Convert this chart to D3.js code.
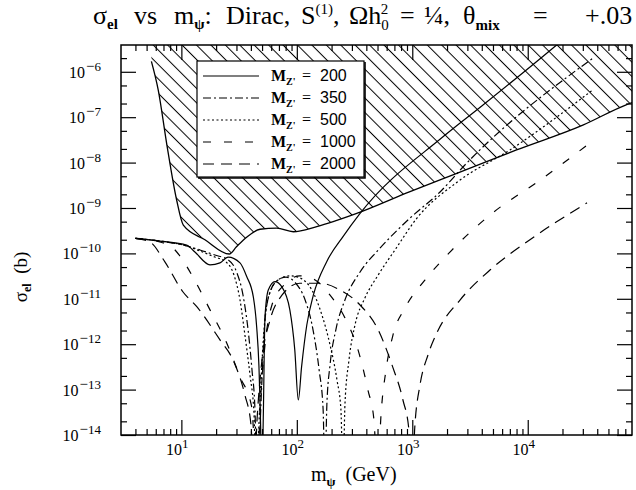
<!DOCTYPE html>
<html>
<head>
<meta charset="utf-8">
<script src="https://cdn.jsdelivr.net/npm/d3@7"></script>
<style>
body { margin: 0; background: #fff; }
text { font-family: "Liberation Serif", serif; fill: #000; white-space: pre; }
</style>
</head>
<body>
<div id="chart"></div>
<script>
// values: [m_psi (GeV), sigma_el (b)]
var massZ = [200, 350, 500, 1000, 2000];

var limitCurve = [[5.5,1.7e-6],[6.3,4.0e-7],[7.5,2.4e-8],[9.1,1.5e-9],[10.4,4.2e-10],[16,2.0e-10],
    [26,9.7e-11],[30,1.4e-10],[37,2.3e-10],[48,3.4e-10],[67,3.6e-10],[93,3.0e-10],[149,3.9e-10],
    [330,7.6e-10],[956,2.3e-9],[2430,5.8e-9],[8000,1.9e-8],[30000,6.7e-8],[72000,1.9e-7],[80000,2.1e-7]];

var curve200 = [[4.0,2.15e-10],[6.5,1.87e-10],[11.1,1.53e-10],[13.1,1.07e-10],[17.7,5.6e-11],[21.6,6.2e-11],
    [25.4,8.3e-11],[32.2,6.2e-11],[36.8,3.1e-11],[42.0,1.1e-11],[44.9,2.4e-12],[47.0,3.2e-13],[48.4,2.5e-14],
    [49.9,1e-15],[51.3,3.0e-14],[53.0,4.0e-12],[56.6,1.56e-11],[64.7,2.4e-11],[74,1.85e-11],[87,5.7e-12],
    [96,7.5e-13],[103,5.9e-14],[110,3.2e-13],[122,2.65e-12],[139,1.2e-11],[181,6.5e-11],[253,2.4e-10],
    [353,7.6e-10],[1845,3.7e-8],[4100,1.86e-7],[17800,3.9e-6],[34600,1.65e-5]];

var curve350 = [[4.0,2.15e-10],[6.5,1.87e-10],[11.1,1.46e-10],[14.5,1.19e-10],[19.5,9.2e-11],[25.4,7.2e-11],
    [30.1,3.9e-11],[34.2,1.2e-11],[37.8,2.1e-12],[40.9,2.7e-13],[43.4,3.6e-14],[45.2,1e-15],[49.9,1.6e-13],
    [53,3.4e-12],[58.6,1.4e-11],[68.8,2.6e-11],[80.6,3.0e-11],[96.4,2.3e-11],[118,9.4e-12],[138,2.1e-12],
    [156,2.7e-13],[169,3.6e-14],[175,1e-15],[182,4.6e-14],[194,3.5e-13],[218,2.1e-12],[261,9.4e-12],
    [353,3.9e-11],[525,1.3e-10],[956,6.0e-10],[1740,2.25e-9],[2750,8.0e-9],[36700,2.0e-6]];

var curve500 = [[4.0,2.15e-10],[6.5,1.87e-10],[11.1,1.46e-10],[14.5,1.13e-10],[19.5,8.3e-11],[24.3,6.5e-11],
    [28.6,3.3e-11],[32.2,9.4e-12],[35.5,1.6e-12],[39.3,2.1e-13],[42.6,2.8e-14],[44.3,1e-15],[48,5.9e-14],
    [52,2.1e-12],[57.4,1.2e-11],[68.8,2.6e-11],[87.3,3.2e-11],[106,2.9e-11],[135,1.56e-11],[165,4.4e-12],
    [194,9.6e-13],[223,1.6e-13],[241,3.6e-14],[251,1e-15],[261,4.6e-14],[283,4.5e-13],[319,2.65e-12],
    [389,1.04e-11],[505,3.3e-11],[708,1.19e-10],[1098,6.0e-10],[2440,3.7e-9],[7020,1.9e-8],[36700,4.0e-7]];

var curve1000 = [[4.0,2.15e-10],[6.5,1.78e-10],[8.3,1.38e-10],[9.7,8.8e-11],[12.7,2.9e-11],[17.7,5.7e-12],
    [24.7,1.06e-12],[32.2,1.9e-13],[40.6,4.2e-14],[45.2,1e-15],[48,3.6e-14],[53,9.6e-13],[60.9,7.3e-12],
    [78.9,2.1e-11],[106,3.2e-11],[144,2.6e-11],[194,1.2e-11],[261,3.8e-12],[339,7.5e-13],[413,9.8e-14],
    [466,2.1e-14],[500,1e-15],[536,2.8e-14],[592,2.7e-13],[681,1.6e-12],[865,6.3e-12],[1290,2.6e-11],
    [2120,1.07e-10],[4710,7.0e-10],[12800,4.1e-9],[34600,2.7e-8]];

var curve2000 = [[4.0,2.15e-10],[5.35,1.78e-10],[7.2,6.5e-11],[10.3,1.43e-11],[13.6,6.7e-12],[21.6,1.24e-12],
    [28,4.5e-13],[35.5,7.6e-14],[40.1,1.66e-14],[42.6,1e-15],[45.2,2.1e-14],[49.9,4.5e-13],[58.6,3.4e-12],
    [74.3,1.2e-11],[106,2.2e-11],[159,2.2e-11],[237,1.56e-11],[353,7.3e-12],[505,2.1e-12],[667,3.5e-13],
    [830,5.9e-14],[935,1.3e-14],[993,1e-15],[1054,1.66e-14],[1166,1.26e-13],[1368,5.8e-13],[1636,1.8e-12],
    [2590,9.4e-12],[4710,4.3e-11],[10450,2.0e-10],[32600,1.3e-9]];

var curves = [curve200, curve350, curve500, curve1000, curve2000];
var dashes = ["none", "8,3,2,3", "2,2.5", "8,13", "11,7"];

var xMajor = [10, 100, 1000, 10000];
var xLabelExp = ["1", "2", "3", "4"];
var yMajor = [1e-14, 1e-13, 1e-12, 1e-11, 1e-10, 1e-9, 1e-8, 1e-7, 1e-6];
var yLabelExp = ["14", "13", "12", "11", "10", "9", "8", "7", "6"];

var width = 636,
    height = 490;

var svg = d3.select("#chart")
    .append("svg")
    .attr("width", width)
    .attr("height", height);

var x = d3.scaleLog()
    .domain([3, 8e4])
    .range([121, 632]);

var y = d3.scaleLog()
    .domain([1e-14, Math.pow(10, -5.41)])
    .range([435, 45]);

var x0 = x.range()[0], x1 = x.range()[1],
    yb = y.range()[0], yt = y.range()[1];

var defs = svg.append("defs");
defs.append("clipPath").attr("id", "plotclip")
    .append("rect")
    .attr("x", x0).attr("y", yt)
    .attr("width", x1 - x0).attr("height", yb - yt);

var pat = defs.append("pattern")
    .attr("id", "hatch")
    .attr("patternUnits", "userSpaceOnUse")
    .attr("width", 10.2)
    .attr("height", 10.2)
    .attr("patternTransform", "rotate(-45)");
pat.append("line")
    .attr("x1", 5.1).attr("y1", 0)
    .attr("x2", 5.1).attr("y2", 10.2)
    .attr("stroke", "#000")
    .attr("stroke-width", 1);

var plot = svg.append("g").attr("clip-path", "url(#plotclip)");

// excluded region above the limit
var hatchArea = d3.area()
    .x(function (d) { return x(d[0]); })
    .y0(yt)
    .y1(function (d) { return y(d[1]); })
    .curve(d3.curveMonotoneX);

plot.append("path")
    .datum(limitCurve)
    .attr("fill", "url(#hatch)")
    .attr("d", hatchArea);

var line = d3.line()
    .x(function (d) { return x(d[0]); })
    .y(function (d) { return y(d[1]); })
    .curve(d3.curveMonotoneX);

plot.append("path")
    .datum(limitCurve)
    .attr("fill", "none")
    .attr("stroke", "#000")
    .attr("stroke-width", 1.3)
    .attr("d", line);

plot.selectAll("path.curve")
    .data(curves)
    .enter()
    .append("path")
    .attr("class", "curve")
    .attr("fill", "none")
    .attr("stroke", "#000")
    .attr("stroke-width", 1.2)
    .attr("stroke-dasharray", function (d, i) { return dashes[i]; })
    .attr("d", line);

// ticks on all four sides, pointing inwards
var xMinor = [], yMinor = [];
[1, 10, 100, 1000, 10000].forEach(function (dec) {
    for (var k = 2; k <= 9; k++) {
        var v = dec * k;
        if (v > 3 && v < 8e4) xMinor.push(v);
    }
});
yMajor.concat([1e-15, 1e-5]).forEach(function (dec) {
    [2, 5].forEach(function (k) {
        var v = dec * k;
        if (v > y.domain()[0] && v < y.domain()[1]) yMinor.push(v);
    });
});

function ticks(axis, vals, size, tx, ty) {
    var g = svg.append("g")
        .attr("transform", "translate(" + tx + "," + ty + ")")
        .call(axis.tickValues(vals).tickSizeInner(size).tickSizeOuter(0).tickFormat(""));
    g.select(".domain").remove();
    g.selectAll(".tick line").attr("stroke", "#000").attr("stroke-width", 1.2);
}
ticks(d3.axisBottom(x), xMajor, -15, 0, yb);
ticks(d3.axisBottom(x), xMinor, -6, 0, yb);
ticks(d3.axisTop(x), xMajor, -15, 0, yt);
ticks(d3.axisTop(x), xMinor, -6, 0, yt);
ticks(d3.axisLeft(y), yMajor, -15, x0, 0);
ticks(d3.axisLeft(y), yMinor, -6, x0, 0);
ticks(d3.axisRight(y), yMajor, -15, x1, 0);
ticks(d3.axisRight(y), yMinor, -6, x1, 0);

svg.append("rect")
    .attr("x", x0).attr("y", yt)
    .attr("width", x1 - x0).attr("height", yb - yt)
    .attr("fill", "none")
    .attr("stroke", "#000")
    .attr("stroke-width", 1.5);

// tick labels
var xl = svg.selectAll("text.xl")
    .data(xMajor)
    .enter()
    .append("text")
    .attr("class", "xl")
    .attr("x", function (d) { return x(d) - 4; })
    .attr("y", 455)
    .attr("text-anchor", "middle")
    .attr("font-size", 16);
xl.append("tspan").text("10");
xl.append("tspan").attr("font-size", 13).attr("dy", -7).text(function (d, i) { return xLabelExp[i]; });

var yl = svg.selectAll("text.yl")
    .data(yMajor)
    .enter()
    .append("text")
    .attr("class", "yl")
    .attr("x", 101)
    .attr("y", function (d) { return y(d) + 6; })
    .attr("text-anchor", "end")
    .attr("font-size", 16);
yl.append("tspan").text("10");
yl.append("tspan").attr("font-size", 15).attr("dx", 1).attr("dy", -7).text("\u2212");
yl.append("tspan").attr("font-size", 13).text(function (d, i) { return yLabelExp[i]; });

// axis titles
var xt = svg.append("text").attr("x", 311).attr("y", 481).attr("font-size", 20);
xt.append("tspan").text("m");
xt.append("tspan").attr("font-size", 13).attr("font-weight", "bold").attr("dy", 5).text("\u03c8");
xt.append("tspan").attr("dy", -5).text("  (GeV)");

var yt2 = svg.append("text")
    .attr("transform", "translate(27,277) rotate(-90)")
    .attr("text-anchor", "middle")
    .attr("font-size", 19);
yt2.append("tspan").text("\u03c3");
yt2.append("tspan").attr("font-size", 12).attr("font-weight", "bold").attr("dy", 4).text("el");
yt2.append("tspan").attr("dy", -4).text("  (b)");

// title, word by word
var title = svg.append("text").attr("y", 24).attr("font-size", 26);
function tw(xp, s) { return title.append("tspan").attr("x", xp).attr("y", 24).text(s); }
function sub(s, d) { return title.append("tspan").attr("font-size", 15).attr("y", 24 + d).text(s); }
tw(93, "\u03c3");
sub("el", 5).attr("font-weight", "bold");
tw(134, "vs");
tw(174, "m");
sub("\u03c8", 5).attr("font-weight", "bold");
title.append("tspan").attr("y", 24).text(":");
tw(226, "Dirac,");
tw(301, "S");
sub("(1)", -10);
title.append("tspan").attr("y", 24).text(",");
tw(349, "\u03a9h");
sub("0", 6);
sub("2", -10).attr("dx", -8);
tw(400, "=");
tw(424, "\u00bc,");
tw(463, "\u03b8");
sub("mix", 6).attr("font-weight", "bold");
tw(533, "=");
tw(585, "+.03");

// legend
var legend = svg.append("g");
legend.append("rect")
    .attr("x", 197).attr("y", 61)
    .attr("width", 167).attr("height", 116)
    .attr("fill", "#fff")
    .attr("stroke", "#000")
    .attr("stroke-width", 1.2);
legend.append("path")
    .attr("d", "M365,62V178H198")
    .attr("fill", "none")
    .attr("stroke", "#000")
    .attr("stroke-width", 1.6);

var rows = legend.selectAll("g.row")
    .data(massZ)
    .enter()
    .append("g")
    .attr("class", "row")
    .attr("transform", function (d, i) { return "translate(0," + (76 + i * 22) + ")"; });

rows.append("line")
    .attr("x1", 203).attr("x2", 259)
    .attr("stroke", "#000")
    .attr("stroke-width", 1.2)
    .attr("stroke-dasharray", function (d, i) { return dashes[i]; });

var lt = rows.append("text").attr("y", 5).attr("font-size", 16);
lt.append("tspan").attr("x", 271).attr("font-weight", "bold").text("M");
lt.append("tspan").attr("font-size", 10).attr("font-weight", "bold").attr("dy", 4).text("Z'");
lt.append("tspan").attr("x", 302).attr("dy", -4).text("=");
lt.append("tspan").attr("x", 320).style("font-family", "'Liberation Sans', sans-serif")
    .text(function (d) { return d; });
</script>
</body>
</html>
